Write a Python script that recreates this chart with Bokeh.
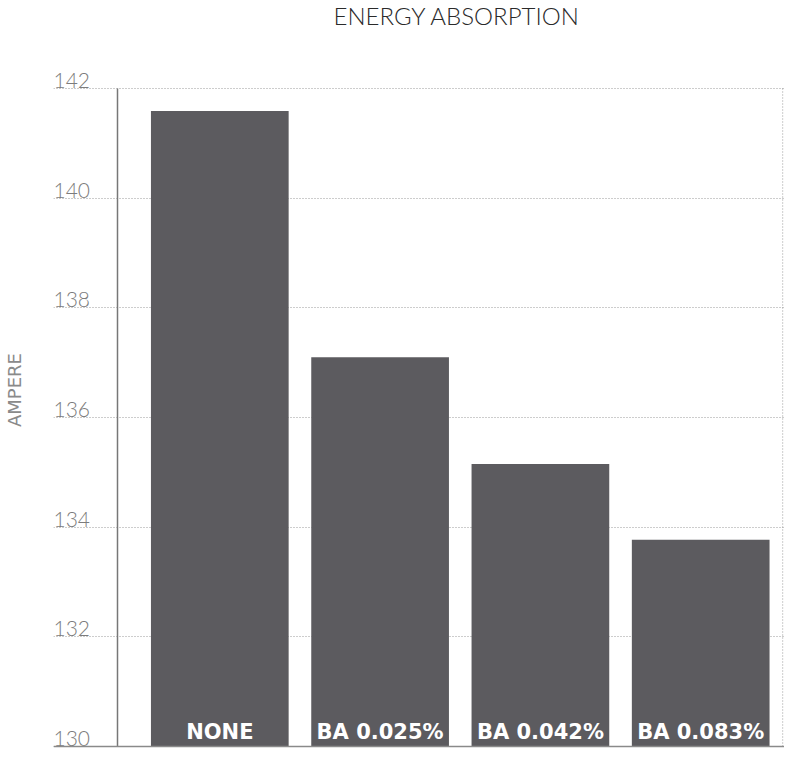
from bokeh.plotting import figure
from bokeh.models import Span, FixedTicker, Range1d, ColumnDataSource
from bokeh.core.properties import value
from bokeh.embed import file_html
from bokeh.resources import INLINE

# ---- data ----
categories = ["NONE", "BA 0.025%", "BA 0.042%", "BA 0.083%"]
values = [141.59, 137.10, 135.15, 133.77]
y_ticks = [130, 132, 134, 136, 138, 140, 142]
y_tick_labels = ["130", "132", "134", "136", "138", "140", "142"]
title_text = "ENERGY ABSORPTION"
y_label = "AMPERE"

# ---- layout helpers (positions only) ----
xs = list(range(len(categories)))
y_min, y_max = y_ticks[0], y_ticks[-1]
FRAME_TOP = 31
FRAME_BOTTOM = 748
TOP_LINE = 88
BOTTOM_LINE = 746
px_per_unit = (BOTTOM_LINE - TOP_LINE) / (y_max - y_min)
y_start = y_min - (FRAME_BOTTOM - BOTTOM_LINE) / px_per_unit
y_end = y_max + (TOP_LINE - FRAME_TOP) / px_per_unit

BAR_STEP = 160.3
x_start = -(219.3 - 53) / BAR_STEP
x_end = x_start + 731 / BAR_STEP
x_axis_line = -(219.3 - 117) / BAR_STEP
x_right_line = 3 + 82 / BAR_STEP

BAR_COLOR = "#5c5b5f"
GRID_COLOR = "#9a9a9a"
AXIS_COLOR = "#777777"
LIGHT_FONT = "'Lato Light', Lato, sans-serif"

p = figure(width=784, height=749, output_backend="svg", toolbar_location=None,
           x_range=Range1d(x_start, x_end), y_range=Range1d(y_start, y_end),
           min_border_left=53, min_border_right=0, min_border_bottom=1,
           min_border_top=0)

p.title.text = title_text
p.title.align = "left"
p.title.offset = 280
p.title.vertical_align = "top"
p.title.text_font = LIGHT_FONT
p.title.text_font_style = "normal"
p.title.text_font_size = "24px"
p.title.text_color = "#2a2a2a"
p.title.standoff = 0

p.outline_line_color = None
p.background_fill_color = "white"
p.border_fill_color = "white"

p.xaxis.visible = False
p.xgrid.visible = False

yax = p.yaxis[0]
yax.ticker = FixedTicker(ticks=[])
yax.axis_line_color = None
yax.major_tick_line_color = None
yax.minor_tick_line_color = None
yax.major_tick_out = 0
yax.major_label_standoff = 0
yax.axis_label = y_label
yax.axis_label_text_font = "DejaVu Sans"
yax.axis_label_text_font_style = "normal"
yax.axis_label_text_font_size = "18px"
yax.axis_label_text_color = "#8a8a8a"
yax.axis_label_standoff = 29

p.ygrid.ticker = FixedTicker(ticks=y_ticks)
p.ygrid.grid_line_color = GRID_COLOR
p.ygrid.grid_line_dash = "1 2"
p.ygrid.grid_line_width = 1

src = ColumnDataSource(dict(x=xs, top=values, cat=categories))
p.vbar(x="x", top="top", bottom=y_min, width=0.859, source=src,
       fill_color=BAR_COLOR, line_color=None)

# left axis line and dotted right edge, from y_min to y_max
p.segment(x0=[x_axis_line], y0=[y_min], x1=[x_axis_line], y1=[y_max],
          line_color=AXIS_COLOR, line_width=1.5)
p.segment(x0=[x_right_line], y0=[y_min], x1=[x_right_line], y1=[y_max],
          line_color=GRID_COLOR, line_width=1, line_dash="1 2")

# bottom solid baseline
p.add_layout(Span(location=y_min, dimension="width", line_color="#8a8a8a",
                  line_width=1.5))

# tick labels (above gridlines, left aligned)
tsrc = ColumnDataSource(dict(y=y_ticks, t=y_tick_labels,
                             x=[x_start] * len(y_ticks)))
p.text(x="x", y="y", text="t", source=tsrc, text_align="left",
       text_baseline="alphabetic", y_offset=-8,
       text_font=value(LIGHT_FONT), text_font_size="21px", text_color="#7c7c7c")

# bar labels
p.text(x="x", y=y_min, text="cat", source=src, text_align="center",
       text_baseline="alphabetic", y_offset=-15,
       text_font=value("DejaVu Sans"), text_font_style="bold",
       text_font_size="21px", text_color="white")

open("out.html", "w").write(file_html(p, INLINE))
